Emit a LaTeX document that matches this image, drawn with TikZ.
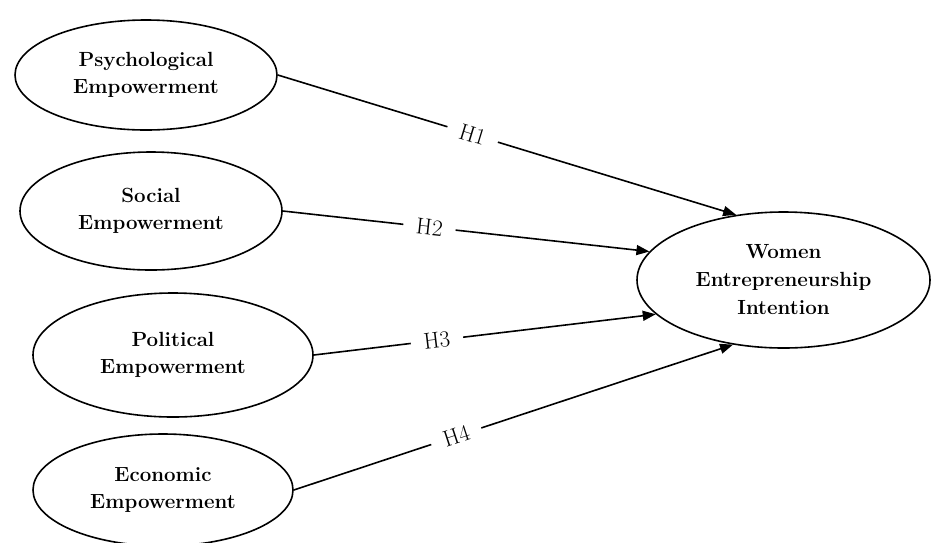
\documentclass[tikz,border=0pt]{standalone}
\usepackage{fontspec}
\usetikzlibrary{shapes.geometric,arrows.meta}
\begin{document}
\begin{tikzpicture}[x=1pt,y=-1pt,
  ell/.style={draw,ellipse,line width=1.6pt,inner sep=0pt,align=center,
    font=\fontsize{20.5}{27}\selectfont\bfseries},
  link/.style={line width=1.6pt,-{Triangle[length=13pt,width=10pt]}},
  hlab/.style={fill=white,sloped,inner xsep=13pt,inner ysep=1pt,
    font=\fontsize{23}{24}\selectfont}]
\useasboundingbox (0,0) rectangle (933,542);
\node[ell,minimum width=262pt,minimum height=110pt] (psy) at (146,75) {Psychological\\Empowerment};
\node[ell,minimum width=262pt,minimum height=118pt] (soc) at (151,211) {Social\\Empowerment};
\node[ell,minimum width=280pt,minimum height=124pt] (pol) at (173,355) {Political\\Empowerment};
\node[ell,minimum width=260pt,minimum height=112pt] (eco) at (163,490) {Economic\\Empowerment};
\node[ell,minimum width=293pt,minimum height=136pt,font=\fontsize{20.5}{28}\selectfont\bfseries] (wei) at (783.5,280) {Women\\Entrepreneurship\\Intention};
\draw[link] (psy.east) -- node[hlab,pos=0.425] (h1) {H1} (wei.126.7);
\draw[link] (soc.east) -- node[hlab,pos=0.40] (h2) {H2} (wei.168.8);
\draw[link] (pol.east) -- node[hlab,pos=0.36] (h3) {H3} (wei.195.9);
\draw[link] (eco.east) -- node[hlab,pos=0.37] (h4) {H4} (wei.232);
\end{tikzpicture}
\end{document}
